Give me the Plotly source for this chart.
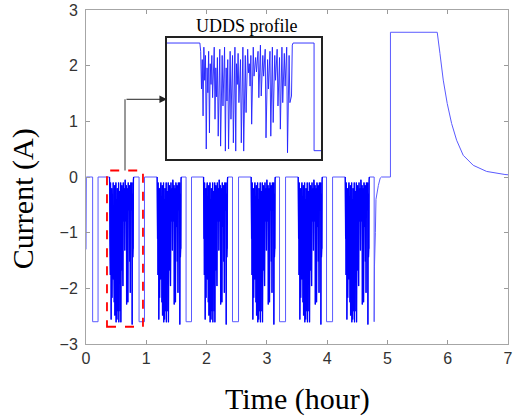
import numpy as np
import plotly.graph_objects as go

# ---------------- data ----------------
# initial point at t=0
start_time = [0.0, 0.005]
start_current = [-1.3, 0.0]

# constant-current discharge pulses before each UDDS cycle (hours)
cc_start_h = [0.11, 0.88, 1.66, 2.43, 3.21, 3.99]
cc_end_h = [0.20, 0.97, 1.75, 2.53, 3.31, 4.09]
cc_current = -2.6

# UDDS cycles
udds_start_h = [0.39, 1.18, 1.95, 2.74, 3.52, 4.30]
udds_duration_h = 0.40
udds_current = [
    0.0, -0.2, -1.11, -0.4, -1.76, -0.1, -0.9, -0.3, -2.56, -0.6,
    -1.2, -0.2, -2.17, -0.5, -1.0, -0.3, -1.32, -0.8, -0.1, -1.84,
    -0.6, -1.3, -0.35, -2.25, -0.7, -0.15, -2.49, -1.1, -0.3, -1.52,
    -0.9, -0.1, -2.61, -0.6, -1.4, -0.4, -2.56, -1.0, -0.2, -1.84,
    -0.7, -0.3, -2.41, -1.2, -0.1, -2.61, -0.5, -1.0, -0.25, -1.44,
    -0.8, -0.4, -2.41, -1.1, -0.1, -2.61, -0.6, -0.3, -1.68, -0.9,
    -0.15, -0.72, -0.5, -1.04, -0.3, -1.96, -0.7, -0.1, -0.8, -0.4,
    -0.35, -0.7, -0.5, -0.2, -1.32, -0.6, -0.05, -1.28, -0.9, -0.3,
    -0.8, -0.5, -0.15, -2.29, -1.0, -0.4, -1.11, -0.7, -0.2, -2.25,
    -0.8, -0.1, -1.92, -0.6, -0.3, -0.9, -0.5, -0.15, -1.52, -0.8,
    -0.35, -2.08, -0.7, -0.1, -1.44, -0.6, -0.25, -1.04, -0.4, -0.1,
    -2.65, -0.8, -0.3, -1.44, -1.3, -1.28, -0.05, 0.0,
]

# final discharge (CC + CV taper)
final_dis_time = [4.78, 4.78, 4.785, 4.80, 4.81, 4.85, 4.88, 4.90]
final_dis_current = [0.0, -2.6, -1.6, -1.0, -0.4, -0.15, -0.02, 0.0]

# charge: CC then CV taper
charge_time = [5.05, 5.05, 5.826, 5.871, 5.926, 5.992, 6.065, 6.148, 6.257,
               6.423, 6.645, 6.949, 7.0]
charge_current = [0.0, 2.6, 2.6, 2.22, 1.74, 1.32, 0.96, 0.66, 0.39,
                  0.21, 0.10, 0.045, 0.04]

x_ticks = [0, 1, 2, 3, 4, 5, 6, 7]
y_ticks = [-3, -2, -1, 0, 1, 2, 3]

# ---------------- build series ----------------
t_all = list(start_time)
i_all = list(start_current)
t_udds, i_udds = [], []
udds_offsets = np.linspace(0, udds_duration_h, len(udds_current))
for k in range(len(cc_start_h)):
    t_all += [cc_start_h[k], cc_start_h[k], cc_end_h[k], cc_end_h[k], udds_start_h[k]]
    i_all += [0.0, cc_current, cc_current, 0.0, 0.0]
    t_all += list(udds_start_h[k] + udds_offsets)
    i_all += list(udds_current)
    t_udds += list(udds_start_h[k] + udds_offsets) + [None]
    i_udds += list(udds_current) + [None]
t_all += final_dis_time
i_all += final_dis_current
t_all += charge_time
i_all += charge_current

fig = go.Figure()
fig.add_trace(go.Scatter(x=t_all, y=i_all, mode='lines',
                         line=dict(color='#5a5aff', width=1),
                         xaxis='x', yaxis='y', showlegend=False, hoverinfo='skip'))
# denser rendering of the UDDS blocks in the main view
fig.add_trace(go.Scatter(x=t_udds, y=i_udds, mode='lines',
                         line=dict(color='#0000ff', width=1.3), connectgaps=False,
                         xaxis='x', yaxis='y', showlegend=False, hoverinfo='skip'))
fig.add_trace(go.Scatter(x=t_all, y=i_all, mode='lines', line=dict(color='#2020ff', width=0.9),
                         xaxis='x2', yaxis='y2', showlegend=False, hoverinfo='skip'))

tickfont = dict(family='Liberation Sans, Arial, sans-serif', size=16, color='#333333')
serif = 'Liberation Serif, Times New Roman, serif'

fig.update_layout(
    width=514, height=419,
    margin=dict(l=86, r=6, t=10, b=75),
    paper_bgcolor='white', plot_bgcolor='white',
    xaxis=dict(domain=[0, 1], range=[0, 7], tickvals=x_ticks, ticks='inside', ticklen=4,
               tickcolor='#9a9a9a', showline=True, linecolor='#a6a6a6', linewidth=1,
               mirror='ticks', showgrid=False, zeroline=False, tickfont=tickfont,
               automargin=False),
    yaxis=dict(domain=[0, 1], range=[-3, 3], tickvals=y_ticks, ticks='inside', ticklen=4,
               tickcolor='#9a9a9a', showline=True, linecolor='#a6a6a6', linewidth=1,
               mirror='ticks', showgrid=False, zeroline=False, tickfont=tickfont,
               ticklabelstandoff=4, automargin=False),
    xaxis2=dict(domain=[0.192, 0.557], anchor='y2', range=[0.249, 0.910],
                showticklabels=False, ticks='', showline=True, mirror=True,
                linecolor='#222222', linewidth=1.5, showgrid=False, zeroline=False,
                automargin=False),
    yaxis2=dict(domain=[0.554, 0.916], anchor='x2', range=[-2.8, 0.12],
                showticklabels=False, ticks='', showline=True, mirror=True,
                linecolor='#222222', linewidth=1.5, showgrid=False, zeroline=False,
                automargin=False),
    shapes=[
        dict(type='rect', xref='x', yref='y', x0=0.348, x1=0.945, y0=-2.69, y1=0.117,
             line=dict(color='#ff0000', width=1.8, dash='dash')),
        dict(type='line', xref='x', yref='y', x0=0.647, x1=0.647, y0=0.117, y1=1.396,
             line=dict(color='#333333', width=1)),
    ],
    annotations=[
        dict(x=1.343, y=1.396, ax=0.647, ay=1.396, xref='x', yref='y', axref='x', ayref='y',
             text='', showarrow=True, arrowhead=2, arrowsize=1.5, arrowwidth=1,
             arrowcolor='#222222', standoff=0),
        dict(text='Time (hour)', xref='paper', yref='paper', x=0.5, y=-0.165,
             xanchor='center', yanchor='middle', showarrow=False,
             font=dict(family=serif, size=30, color='black')),
        dict(text='Current (A)', xref='paper', yref='paper', x=-0.149, y=0.434,
             xanchor='center', yanchor='middle', showarrow=False, textangle=-90,
             font=dict(family=serif, size=30, color='black')),
        dict(text='UDDS profile', xref='paper', yref='paper', x=0.3815, y=0.952,
             xanchor='center', yanchor='middle', showarrow=False,
             font=dict(family=serif, size=18, color='black')),
    ],
)

fig.write_html('out.html', config={'displayModeBar': False},
               post_script="document.body.style.margin='0';")
